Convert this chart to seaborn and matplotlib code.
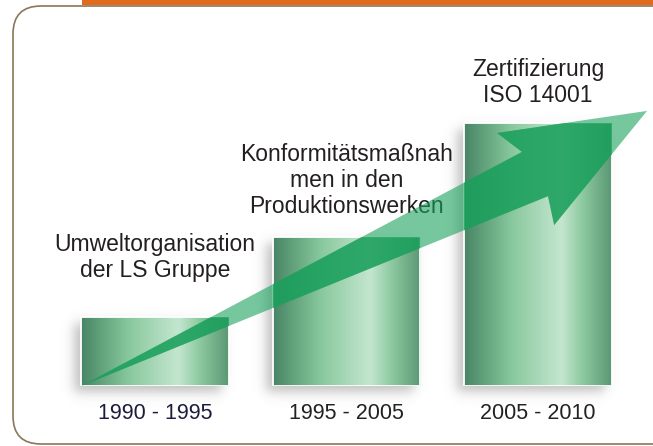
import numpy as np
import matplotlib
matplotlib.use("Agg")
import matplotlib.pyplot as plt
import seaborn as sns
from matplotlib import font_manager
from matplotlib.colors import LinearSegmentedColormap
from matplotlib.patches import FancyBboxPatch, Rectangle, Polygon

# Data
periods = ["1990 - 1995", "1995 - 2005", "2005 - 2010"]
heights = [69, 149, 263]
milestones = ["Umweltorganisation\nder LS Gruppe",
              "Konformitätsmaßnah\nmen in den\nProduktionswerken",
              "Zertifizierung\nISO 14001"]
year_colors = ["#1c1c3c", "#222222", "#222222"]

sns.set_theme(style="white")
plt.rcParams['font.family'] = ['Liberation Sans', 'DejaVu Sans']


def has_font(name):
    try:
        font_manager.findfont(font_manager.FontProperties(family=name),
                              fallback_to_default=False)
        return True
    except Exception:
        return False


if has_font('Liberation Sans Narrow'):
    year_font, year_size = 'Liberation Sans Narrow', 18
else:
    year_font, year_size = 'Liberation Sans', 15.5

W, H = 653, 446
fig = plt.figure(figsize=(W / 100, H / 100), dpi=100)

# background frame in pixel units
bg = fig.add_axes([0, 0, 1, 1], zorder=0)
bg.set_xlim(0, W)
bg.set_ylim(0, H)
bg.axis('off')
bg.add_patch(FancyBboxPatch((13, 2), 720, 438,
                            boxstyle='round,pad=0,rounding_size=28',
                            fc='none', ec='#8a7658', lw=1.2))
bg.add_patch(Rectangle((82, 441), 600, 8, color='#e26a1f', lw=0))

# main axes: baseline of bars at 386 px from top
base_px = 60
ax = fig.add_axes([0, base_px / H, 1, (H - base_px) / H], zorder=1)
ax.patch.set_alpha(0)
sns.barplot(x=periods, y=heights, width=0.77, color='#6aa883',
            saturation=1, ax=ax)
xlim = (-0.809, 2.60)
ylim = (0, H - base_px)
px_x = W / (xlim[1] - xlim[0])  # pixels per x unit

bar_cmap = LinearSegmentedColormap.from_list('bar', [
    (0.0, '#4a8566'), (0.12, '#5f9f79'), (0.32, '#88c89e'),
    (0.5, '#a8d8b8'), (0.66, '#c4e6d0'), (0.8, '#8ecaa1'), (1.0, '#5a9874')])


def smooth(t, s):
    return 0.5 * (1 + np.tanh(t / s))


bars = list(ax.patches)
for bar in bars:
    x0, w, h = bar.get_x(), bar.get_width(), bar.get_height()
    x1 = x0 + w
    # soft shadow (left / below)
    ex = (x0 - 40 / px_x, x1 + 20 / px_x, -40, h + 20)
    gx = np.linspace(ex[0], ex[1], 200) * px_x
    gy = np.linspace(ex[2], ex[3], 200)
    X, Y = np.meshgrid(gx, gy)
    dx, dy, sg = -7, -6, 7
    a = (smooth(X - (x0 * px_x + dx), sg) * smooth((x1 * px_x + dx) - X, sg)
         * smooth(Y - dy, sg) * smooth((h + dy) - Y, sg)) * 0.45
    sh = np.zeros((200, 200, 4))
    sh[..., :3] = 0.45
    sh[..., 3] = a
    im = ax.imshow(sh, extent=ex, origin='lower', aspect='auto', zorder=1.5)
    im.set_clip_on(False)
    # gradient fill
    grad = np.linspace(0, 1, 256)[None, :]
    gim = ax.imshow(grad, cmap=bar_cmap, extent=(x0, x1, 0, h), origin='lower',
                    aspect='auto', zorder=2)
    gim.set_clip_path(bar)
    bar.set_facecolor('none')
    bar.set_edgecolor('white')
    bar.set_linewidth(1.3)
    bar.set_zorder(3)

# arrow from foot of first bar to beyond the last bar
left0 = bars[0].get_x()
c2 = bars[2].get_x() + bars[2].get_width() / 2
hm = max(heights)
arrow_pts = [(left0, 0), (c2 - 0.084, 0.89 * hm), (c2 - 0.214, 0.962 * hm),
             (c2 + 0.569, 1.046 * hm), (c2 + 0.084, 0.612 * hm),
             (c2 + 0.052, 0.722 * hm)]
ax.add_patch(Polygon(arrow_pts, closed=True, fc='#1ca35e', ec='none',
                     alpha=0.6, zorder=4, clip_on=False))
for bar in bars:
    p = Polygon(arrow_pts, closed=True, fc='#1a9f5b', ec='none',
                alpha=0.7, zorder=4.1)
    ax.add_patch(p)
    p.set_clip_path(bar)

# milestone labels
gaps = [35, 19, 16]
for bar, txt, g in zip(bars, milestones, gaps):
    cx = bar.get_x() + bar.get_width() / 2
    ax.annotate(txt, xy=(cx, bar.get_height()), xytext=(0, g * 0.72),
                textcoords='offset points', ha='center', va='bottom',
                fontsize=16.5, color='#231f20', linespacing=1.18)

ax.set_xlim(*xlim)
ax.set_ylim(*ylim)
ax.set_xlabel('')
ax.set_ylabel('')
ax.set_yticks([])
sns.despine(ax=ax, left=True, bottom=True)
ax.tick_params(axis='x', length=0, pad=12)
for lbl, c in zip(ax.get_xticklabels(), year_colors):
    lbl.set_color(c)
    lbl.set_fontfamily(year_font)
    lbl.set_fontsize(year_size)

fig.savefig('out.png', dpi=100)
